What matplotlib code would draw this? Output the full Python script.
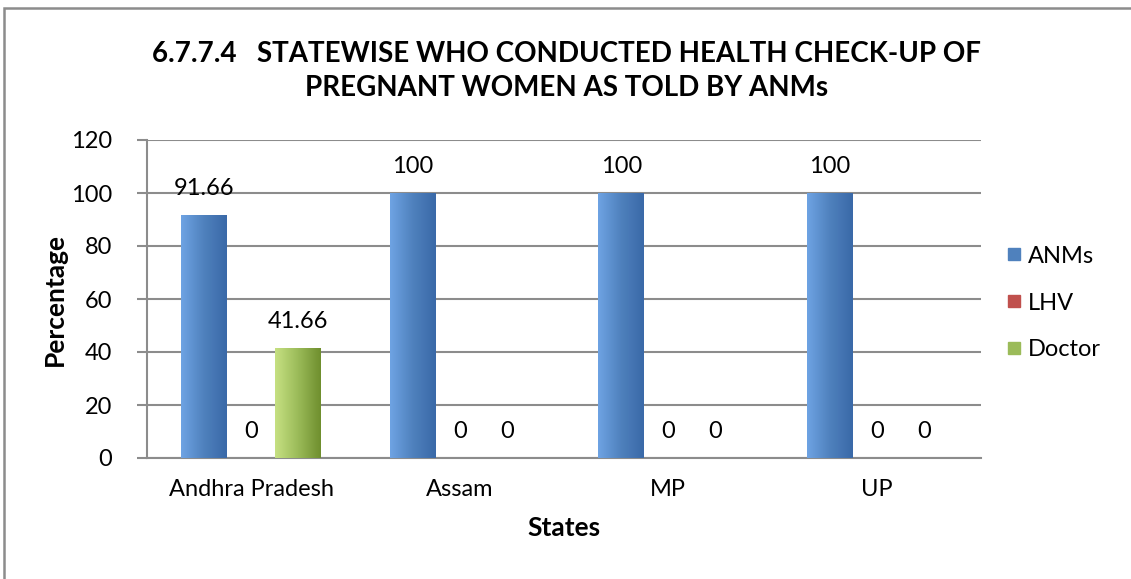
import matplotlib.pyplot as plt
import numpy as np
from matplotlib.patches import Rectangle
from matplotlib.lines import Line2D
from matplotlib.colors import LinearSegmentedColormap

# 資料
states = ['Andhra Pradesh', 'Assam', 'MP', 'UP']
anms = [91.66, 100, 100, 100]
lhv = [0, 0, 0, 0]
doctor = [41.66, 0, 0, 0]
series_names = ['ANMs', 'LHV', 'Doctor']
yticks = [0, 20, 40, 60, 80, 100, 120]

# 顏色 (左亮 中 右暗)
colors = {
    'ANMs': ('#6ea3e3', '#4f81bd', '#3a69a8'),
    'LHV': ('#d46a66', '#c0504d', '#a43c39'),
    'Doctor': ('#c6e082', '#9bbb59', '#6f8f2e'),
}

plt.rcParams['font.family'] = ['Lato', 'DejaVu Sans']

fig = plt.figure(figsize=(11.31, 5.79), dpi=100)
ax = fig.add_axes([147/1131, 121/579, (981-147)/1131, (458-140)/579])

# 外框 (只看得到上緣和左緣)
fig.patches.append(Rectangle((4/1131, -0.1), 1.2, (579-8)/579 + 0.1,
                             transform=fig.transFigure, fill=False,
                             edgecolor='#8c8c8c', linewidth=1.8))

x = np.arange(len(states))
w = 0.22
step = 0.225

def grad_bars(bars, name):
    cmap = LinearSegmentedColormap.from_list(name, list(colors[name]))
    g = np.linspace(0, 1, 64).reshape(1, -1)
    for b in bars:
        h = b.get_height()
        if h <= 0:
            continue
        x0 = b.get_x()
        im = ax.imshow(g, cmap=cmap, aspect='auto',
                       extent=(x0, x0 + b.get_width(), 0, h), zorder=3)
        im.set_clip_path(b)

data = [anms, lhv, doctor]
for i, (name, vals) in enumerate(zip(series_names, data)):
    bars = ax.bar(x + (i - 1) * step, vals, w, color=colors[name][1],
                  zorder=2, linewidth=0)
    grad_bars(bars, name)
    for xi, v in zip(x + (i - 1) * step, vals):
        lab = '0' if v == 0 else ('%g' % v)
        ax.annotate(lab, (xi, v), xytext=(0, 19), textcoords='offset points',
                    ha='center', va='center', fontsize=17)

ax.set_xlim(-0.5, len(states) - 0.5)
ax.set_ylim(0, 120)
ax.set_yticks(yticks)
ax.set_xticks(x)
ax.set_xticklabels(states)
ax.tick_params(axis='y', length=7, width=1.5, color='#8c8c8c', labelsize=17, pad=18)
ax.tick_params(axis='x', length=0, labelsize=17, pad=15)
ax.yaxis.grid(True, color='#8c8c8c', linewidth=1.5, zorder=0)
ax.set_axisbelow(True)
for s in ['top', 'right']:
    ax.spines[s].set_visible(False)
for s in ['left', 'bottom']:
    ax.spines[s].set_color('#8c8c8c')
    ax.spines[s].set_linewidth(1.5)

ax.set_ylabel('Percentage', fontsize=19, fontweight='bold', labelpad=3)
ax.set_xlabel('States', fontsize=19, fontweight='bold', labelpad=12)

fig.text(567/1131, 1 - 71/579,
         '6.7.7.4   STATEWISE WHO CONDUCTED HEALTH CHECK-UP OF\nPREGNANT WOMEN AS TOLD BY ANMs',
         ha='center', va='center', fontsize=20, fontweight='bold', linespacing=1.35)

handles = [Line2D([], [], marker='s', linestyle='none', markersize=9,
                  markerfacecolor=colors[n][1], markeredgecolor=colors[n][1])
           for n in series_names]
fig.legend(handles, series_names, loc='center left',
           bbox_to_anchor=(983/1131, 1 - 303/579), frameon=False,
           fontsize=17, labelspacing=1.1, handletextpad=0.2, handlelength=0.8)

plt.savefig('out.png', dpi=100)
